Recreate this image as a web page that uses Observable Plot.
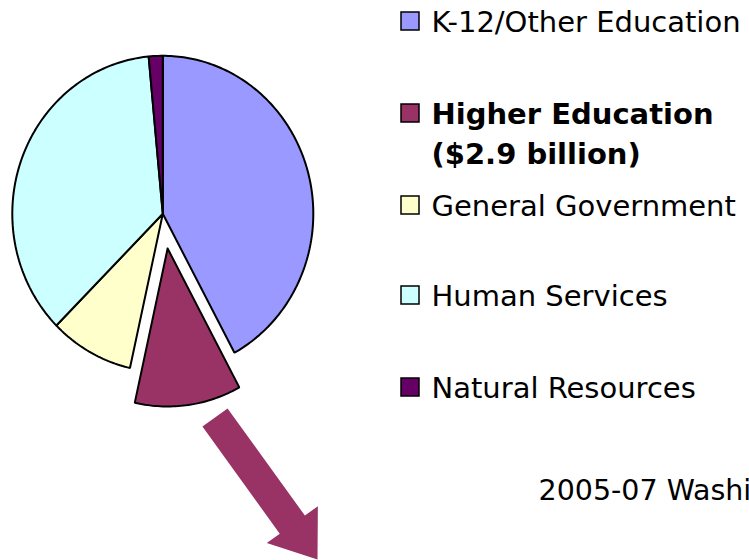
<!DOCTYPE html>
<html><head><meta charset="utf-8">
<script src="https://cdn.jsdelivr.net/npm/d3@7"></script>
<script src="https://cdn.jsdelivr.net/npm/@observablehq/plot@0.6"></script>
<style>
html,body{margin:0;padding:0;background:#fff;overflow:hidden;}
#chart svg{display:block;}
</style>
</head><body><div id="chart"></div>
<script>
// ---- data ----
const categories = ["K-12/Other Education", "Higher Education", "General Government", "Human Services", "Natural Resources"];
const shares = [42.1, 11.4, 9.0, 36.0, 1.5];           // percent of budget
const colors = ["#9999FF", "#993366", "#FFFFCC", "#CCFFFF", "#660066"];
const legendLines = [["K-12/Other Education"], ["Higher Education", "($2.9 billion)"], ["General Government"], ["Human Services"], ["Natural Resources"]];
const highlighted = "Higher Education";
const caption = "2005-07 Washington State Budget";

// ---- layout ----
const W = 749, H = 560;
const cx = 162.3, cy = 213.3, rx = 150.5, ry = 158, explode = 35;
const legendSquareX = 401, legendTextX = 431, square = 18;
const legendBaselines = [31, 123, 215, 305, 397];
const lineGap = 40;
const font = "'DejaVu Sans', sans-serif", fontSize = 29, captionSize = 28.5;

// ---- pie geometry ----
const total = d3.sum(shares);
let acc = 0;
const slices = categories.map((c, i) => {
  const a0 = acc / total * 2 * Math.PI; acc += shares[i];
  const a1 = acc / total * 2 * Math.PI;
  const mid = (a0 + a1) / 2;
  const off = c === highlighted ? explode : 0;
  const ox = cx + off * Math.sin(mid);
  const oy = cy - off * Math.cos(mid);
  const n = Math.max(2, Math.ceil((a1 - a0) / (Math.PI / 180)));
  const pts = [{x: ox, y: oy}];
  for (let k = 0; k <= n; k++) {
    const a = a0 + (a1 - a0) * k / n;
    pts.push({x: ox + rx * Math.sin(a), y: oy - ry * Math.cos(a)});
  }
  pts.push({x: ox, y: oy});
  return {cat: c, color: colors[i], pts, mid};
});

// ---- block arrow (decoration) ----
const aStart = [214.5, 417], aTip = [317, 559], shaftW = 31, headW = 63, headL = 43;
const dx = aTip[0] - aStart[0], dy = aTip[1] - aStart[1], len = Math.hypot(dx, dy);
const ux = dx / len, uy = dy / len, nx = -uy, ny = ux;
const bx = aTip[0] - ux * headL, by = aTip[1] - uy * headL;
const arrow = [
  [aStart[0] + nx * shaftW / 2, aStart[1] + ny * shaftW / 2],
  [bx + nx * shaftW / 2, by + ny * shaftW / 2],
  [bx + nx * headW / 2, by + ny * headW / 2],
  aTip,
  [bx - nx * headW / 2, by - ny * headW / 2],
  [bx - nx * shaftW / 2, by - ny * shaftW / 2],
  [aStart[0] - nx * shaftW / 2, aStart[1] - ny * shaftW / 2],
  [aStart[0] + nx * shaftW / 2, aStart[1] + ny * shaftW / 2]
].map(([x, y]) => ({x, y}));

// ---- legend ----
const legendRects = categories.map((c, i) => ({cat: c, color: colors[i], x1: legendSquareX, x2: legendSquareX + square, y1: legendBaselines[i] - square - 1, y2: legendBaselines[i] - 1}));
const legendText = legendLines.flatMap((lines, i) => lines.map((t, j) => ({text: t, bold: categories[i] === highlighted, x: legendTextX, y: legendBaselines[i] + j * lineGap})));

const marks = [];
slices.forEach(s => marks.push(Plot.line(s.pts, {x: "x", y: "y", fill: s.color, stroke: "black", strokeWidth: 2, strokeLinejoin: "miter", curve: "linear"})));
marks.push(Plot.line(arrow, {x: "x", y: "y", fill: colors[1], stroke: "none", curve: "linear"}));
marks.push(Plot.rect(legendRects, {x1: "x1", x2: "x2", y1: "y1", y2: "y2", fill: "color", stroke: "black", strokeWidth: 1.5, inset: 0}));
marks.push(Plot.text(legendText.filter(d => !d.bold), {x: "x", y: "y", text: "text", textAnchor: "start", lineAnchor: "bottom", fontSize, fill: "black"}));
marks.push(Plot.text(legendText.filter(d => d.bold), {x: "x", y: "y", text: "text", textAnchor: "start", lineAnchor: "bottom", fontSize, fontWeight: "bold", fill: "black"}));
marks.push(Plot.text([caption], {x: () => 538, y: () => 499, text: d => d, textAnchor: "start", lineAnchor: "bottom", fontSize: captionSize, fill: "black"}));

const chart = Plot.plot({
  width: W, height: H,
  margin: 0,
  style: {fontFamily: font, background: "#fff", overflow: "hidden"},
  x: {domain: [0, W], range: [0, W], axis: null},
  y: {domain: [0, H], range: [0, H], axis: null},
  color: {type: "identity"},
  marks
});
document.getElementById("chart").appendChild(chart);
</script>
</body></html>
